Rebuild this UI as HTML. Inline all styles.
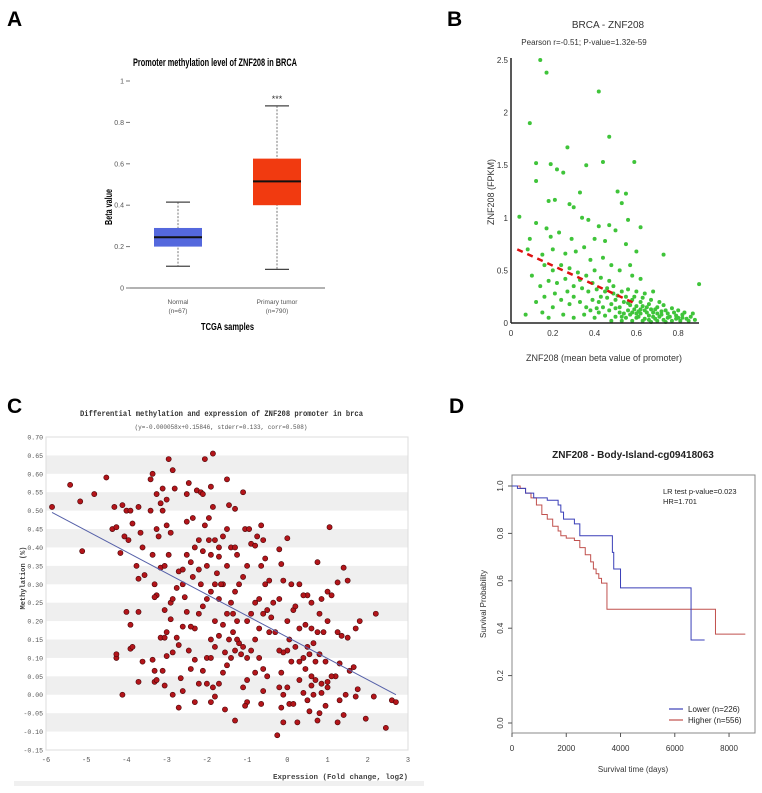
<!DOCTYPE html>
<html><head><meta charset="utf-8"><style>
html,body{margin:0;padding:0;background:#fff;}
svg{display:block;}
text{font-family:"Liberation Sans",sans-serif;}
.mono{font-family:"Liberation Mono",monospace;}
.narrow{font-family:"Liberation Sans Narrow","Liberation Sans",sans-serif;}
</style></head><body>
<svg id="fig" width="762" height="793" viewBox="0 0 762 793" xmlns="http://www.w3.org/2000/svg">
<text x="7" y="26" font-size="21" font-weight="bold">A</text>
<text x="447" y="26" font-size="21" font-weight="bold">B</text>
<text x="7" y="413" font-size="21" font-weight="bold">C</text>
<text x="449" y="413" font-size="21" font-weight="bold">D</text>
<g id="pa"></g>
<g id="pb"></g>
<g id="pc"></g>
<g id="pd"></g>
</svg>
<script>
// Panel A data
const boxCategories = ["Normal","Primary tumor"];
const boxCounts = ["(n=67)","(n=790)"];
const boxMin = [0.105, 0.09];
const boxQ1 = [0.20, 0.40];
const boxMedian = [0.245, 0.515];
const boxQ3 = [0.29, 0.625];
const boxMax = [0.415, 0.88];
const boxTicks = [0,0.2,0.4,0.6,0.8,1];
const boxTickLabels = ["0","0.2","0.4","0.6","0.8","1"];

// Panel B data
const bPoints = [[0.14,2.5],[0.17,2.38],[0.42,2.2],[0.09,1.9],[0.47,1.77],[0.27,1.67],[0.12,1.52],[0.19,1.51],[0.36,1.5],[0.44,1.53],[0.59,1.53],[0.22,1.46],[0.25,1.43],[0.12,1.35],[0.33,1.24],[0.51,1.25],[0.55,1.23],[0.53,1.14],[0.18,1.16],[0.21,1.17],[0.28,1.13],[0.3,1.1],[0.04,1.01],[0.34,1.0],[0.37,0.98],[0.56,0.98],[0.12,0.95],[0.47,0.93],[0.42,0.92],[0.62,0.91],[0.17,0.9],[0.5,0.88],[0.23,0.86],[0.29,0.8],[0.09,0.8],[0.19,0.82],[0.4,0.8],[0.45,0.78],[0.55,0.75],[0.6,0.68],[0.73,0.65],[0.08,0.7],[0.15,0.65],[0.2,0.7],[0.26,0.66],[0.31,0.68],[0.35,0.72],[0.38,0.6],[0.44,0.62],[0.48,0.55],[0.52,0.5],[0.57,0.55],[0.58,0.45],[0.62,0.42],[0.16,0.55],[0.2,0.5],[0.24,0.55],[0.28,0.52],[0.32,0.48],[0.36,0.45],[0.4,0.5],[0.43,0.43],[0.47,0.4],[0.1,0.45],[0.14,0.35],[0.18,0.4],[0.22,0.38],[0.26,0.42],[0.3,0.35],[0.34,0.33],[0.37,0.3],[0.41,0.32],[0.45,0.3],[0.49,0.28],[0.53,0.3],[0.56,0.32],[0.6,0.3],[0.64,0.28],[0.68,0.3],[0.12,0.2],[0.16,0.25],[0.2,0.15],[0.24,0.22],[0.28,0.18],[0.3,0.25],[0.33,0.2],[0.36,0.15],[0.39,0.22],[0.42,0.2],[0.44,0.15],[0.46,0.24],[0.48,0.18],[0.5,0.22],[0.52,0.15],[0.54,0.2],[0.56,0.12],[0.58,0.22],[0.6,0.16],[0.62,0.2],[0.64,0.12],[0.66,0.18],[0.68,0.1],[0.7,0.15],[0.72,0.08],[0.74,0.12],[0.76,0.06],[0.78,0.1],[0.8,0.05],[0.82,0.08],[0.84,0.04],[0.86,0.06],[0.88,0.03],[0.9,0.37],[0.07,0.08],[0.18,0.05],[0.25,0.08],[0.3,0.05],[0.35,0.08],[0.4,0.05],[0.42,0.1],[0.45,0.07],[0.47,0.12],[0.5,0.06],[0.52,0.1],[0.55,0.05],[0.57,0.08],[0.6,0.05],[0.62,0.09],[0.64,0.04],[0.66,0.07],[0.69,0.04],[0.71,0.06],[0.73,0.03],[0.75,0.05],[0.77,0.02],[0.79,0.04],[0.81,0.02],[0.85,0.02],[0.48,0.02],[0.53,0.02],[0.58,0.02],[0.63,0.02],[0.67,0.01],[0.7,0.02],[0.74,0.01],[0.43,0.25],[0.51,0.26],[0.55,0.25],[0.59,0.25],[0.63,0.24],[0.67,0.22],[0.71,0.2],[0.65,0.15],[0.69,0.13],[0.73,0.17],[0.61,0.11],[0.57,0.17],[0.49,0.35],[0.46,0.33],[0.39,0.38],[0.33,0.41],[0.27,0.3],[0.21,0.28],[0.15,0.1],[0.38,0.12],[0.41,0.14],[0.5,0.14],[0.54,0.09],[0.59,0.13],[0.77,0.14],[0.8,0.12],[0.83,0.1],[0.87,0.09],[0.61,0.06],[0.65,0.1],[0.68,0.06],[0.72,0.11],[0.75,0.09],[0.79,0.07],[0.82,0.05],[0.56,0.19],[0.63,0.16],[0.67,0.13],[0.7,0.09],[0.66,0.03],[0.6,0.09],[0.53,0.06],[0.58,0.1],[0.62,0.13]];
const bFit = [[0.03,0.70],[0.60,0.18]];
const bXTicks = [0,0.2,0.4,0.6,0.8];
const bXTickLabels = ["0","0.2","0.4","0.6","0.8"];
const bYTicks = [0,0.5,1,1.5,2,2.5];
const bYTickLabels = ["0","0.5","1","1.5","2","2.5"];

// Panel C data
const cPoints = [[-5.85,0.51],[-5.4,0.57],[-5.15,0.525],[-5.1,0.39],[-4.8,0.545],[-4.5,0.59],[-4.35,0.45],[-4.3,0.51],[-4.25,0.455],[-4.1,0.515],[-4.15,0.385],[-4,0.5],[-3.95,0.42],[-3.9,0.5],[-3.85,0.465],[-4.05,0.43],[-3.7,0.51],[-3.6,0.4],[-3.65,0.44],[-3.55,0.325],[-3.75,0.35],[-3.7,0.315],[-4.0,0.225],[-3.9,0.19],[-3.9,0.125],[-3.85,0.13],[-4.25,0.1],[-4.25,0.11],[-3.7,0.225],[-3.6,0.09],[-3.7,0.035],[-4.1,0.0],[-3.4,0.5],[-3.35,0.6],[-3.4,0.585],[-3.25,0.545],[-3.1,0.56],[-3.0,0.53],[-2.95,0.64],[-2.85,0.61],[-2.8,0.56],[-3.1,0.5],[-3.15,0.52],[-3.25,0.45],[-3.2,0.43],[-3.0,0.46],[-2.9,0.44],[-3.35,0.38],[-3.15,0.345],[-3.05,0.35],[-2.95,0.38],[-3.3,0.3],[-3.25,0.27],[-3.3,0.265],[-3.05,0.23],[-2.9,0.25],[-2.85,0.26],[-3.15,0.155],[-3.05,0.155],[-3.0,0.17],[-2.9,0.205],[-3.0,0.105],[-3.35,0.095],[-3.3,0.065],[-3.1,0.065],[-3.3,0.035],[-3.25,0.04],[-3.05,0.025],[-2.85,0.0],[-2.7,-0.035],[-2.65,0.045],[-2.6,0.01],[-2.7,0.135],[-2.75,0.155],[-2.85,0.115],[-2.6,0.185],[-2.75,0.29],[-2.7,0.335],[-2.6,0.34],[-2.5,0.38],[-2.5,0.47],[-2.45,0.575],[-2.5,0.545],[-2.35,0.48],[-2.25,0.555],[-2.15,0.55],[-2.1,0.545],[-2.05,0.64],[-1.85,0.655],[-1.9,0.565],[-1.85,0.51],[-1.95,0.48],[-2.05,0.46],[-2.2,0.42],[-2.3,0.4],[-2.4,0.36],[-2.35,0.32],[-2.2,0.34],[-2.15,0.3],[-2.0,0.35],[-1.9,0.38],[-1.8,0.42],[-1.7,0.4],[-1.75,0.33],[-1.8,0.3],[-1.9,0.28],[-2.0,0.26],[-2.1,0.24],[-2.2,0.22],[-2.3,0.18],[-2.4,0.185],[-2.5,0.225],[-2.45,0.12],[-2.4,0.07],[-2.3,0.095],[-2.3,-0.02],[-2.2,0.03],[-2.1,0.065],[-2.0,0.1],[-1.9,0.15],[-1.8,0.2],[-1.7,0.26],[-1.6,0.3],[-1.5,0.35],[-1.4,0.4],[-1.5,0.45],[-1.5,0.585],[-1.45,0.515],[-1.3,0.505],[-1.3,0.4],[-1.25,0.38],[-1.1,0.55],[-1.05,0.45],[-0.95,0.45],[-0.9,0.41],[-0.8,0.405],[-0.65,0.46],[-0.6,0.42],[-0.55,0.37],[-0.65,0.35],[-0.75,0.43],[-1.0,0.35],[-1.1,0.32],[-1.2,0.3],[-1.3,0.28],[-1.4,0.25],[-1.5,0.22],[-1.6,0.19],[-1.7,0.16],[-1.8,0.13],[-1.9,0.1],[-1.85,0.02],[-1.8,-0.005],[-1.9,-0.02],[-1.7,0.03],[-1.6,0.06],[-1.5,0.08],[-1.4,0.1],[-1.3,0.12],[-1.2,0.14],[-1.1,0.13],[-1.0,0.1],[-1.15,0.11],[-1.25,0.15],[-1.35,0.17],[-1.0,0.2],[-0.9,0.22],[-0.8,0.25],[-0.7,0.26],[-0.6,0.22],[-0.5,0.23],[-0.4,0.21],[-0.3,0.17],[-0.45,0.17],[-0.7,0.18],[-0.8,0.15],[-0.9,0.12],[-0.7,0.1],[-0.6,0.07],[-0.5,0.05],[-0.8,0.06],[-1.0,0.04],[-1.1,0.02],[-1.0,-0.02],[-1.05,-0.03],[-1.3,-0.07],[-1.55,-0.04],[-0.6,0.01],[-0.65,-0.025],[-0.25,-0.11],[-0.1,-0.075],[-0.15,-0.035],[-0.1,0.0],[-0.2,0.02],[0.0,0.02],[0.05,-0.025],[0.15,-0.025],[0.25,-0.075],[0.3,0.04],[0.4,0.005],[0.5,-0.015],[0.55,-0.045],[0.6,0.025],[0.65,0.0],[0.75,-0.07],[0.8,-0.05],[0.85,0.005],[0.95,-0.03],[1.0,0.02],[1.25,-0.075],[1.3,-0.015],[1.4,-0.055],[1.45,0.0],[1.7,-0.005],[1.95,-0.065],[2.15,-0.005],[2.45,-0.09],[2.6,-0.015],[2.7,-0.02],[1.75,0.015],[1.55,0.065],[1.2,0.05],[1.1,0.05],[1.0,0.035],[0.85,0.03],[0.7,0.04],[0.6,0.05],[0.45,0.07],[0.3,0.09],[0.1,0.09],[0.0,0.12],[-0.1,0.115],[-0.15,0.06],[-0.2,0.12],[0.05,0.15],[0.2,0.13],[0.4,0.1],[0.5,0.13],[0.55,0.11],[0.7,0.09],[0.8,0.11],[0.95,0.09],[1.3,0.085],[1.65,0.075],[0.0,0.2],[0.15,0.23],[0.3,0.18],[0.45,0.19],[0.6,0.18],[0.75,0.17],[0.9,0.17],[1.0,0.2],[1.25,0.17],[1.35,0.16],[1.5,0.155],[1.7,0.18],[1.8,0.2],[2.2,0.22],[1.5,0.31],[1.4,0.345],[1.25,0.305],[1.1,0.27],[1.0,0.28],[0.85,0.26],[0.75,0.36],[0.6,0.25],[0.5,0.27],[0.4,0.27],[0.3,0.3],[0.2,0.24],[0.1,0.3],[-0.1,0.31],[-0.2,0.26],[-0.15,0.355],[-0.2,0.395],[0.0,0.425],[1.05,0.455],[0.8,0.22],[0.65,0.14],[-0.35,0.25],[-0.45,0.31],[-0.55,0.3],[-1.35,0.22],[-1.25,0.2],[-2.6,0.3],[-2.55,0.265],[-1.6,0.43],[-1.55,0.115],[-2.0,0.03],[-1.7,0.375],[-2.1,0.39],[-1.95,0.42],[-1.65,0.3],[-1.45,0.15]];
const cFit = [[-5.85,0.495],[2.7,0.0]];
const cXTicks = [-6,-5,-4,-3,-2,-1,0,1,2,3];
const cYTicks = [0.70,0.65,0.60,0.55,0.50,0.45,0.40,0.35,0.30,0.25,0.20,0.15,0.10,0.05,0.00,-0.05,-0.10,-0.15];

// Panel D data
const lowerTimes = [0,200,500,800,1300,1700,1800,1900,2300,2500,3700,3750,4000,6600,7100];
const lowerSurv = [1,0.99,0.97,0.95,0.94,0.92,0.89,0.86,0.84,0.79,0.72,0.65,0.57,0.35,0.35];
const higherTimes = [0,300,500,700,900,1100,1300,1500,1700,1800,2000,2300,2500,2700,2900,3000,3100,3200,3300,3500,7500,8600];
const higherSurv = [1,0.99,0.97,0.95,0.92,0.88,0.86,0.83,0.81,0.79,0.78,0.77,0.74,0.71,0.68,0.65,0.63,0.61,0.59,0.48,0.375,0.375];
const dXTicks = [0,2000,4000,6000,8000];
const dYTicks = [0,0.2,0.4,0.6,0.8,1.0];
const dYTickLabels = ["0.0","0.2","0.4","0.6","0.8","1.0"];

const NS="http://www.w3.org/2000/svg";
function mk(parent,tag,attrs,text){const e=document.createElementNS(NS,tag);for(const k in attrs)e.setAttribute(k,attrs[k]);if(text!==undefined)e.textContent=text;parent.appendChild(e);return e;}

// ---------- Panel A ----------
(function(){
const g=document.getElementById('pa');
const ay=v=>288-v*207;
const ax=i=>[178,277][i];
const t=mk(g,'text',{x:133,y:66,'font-size':11,'font-weight':'bold',textLength:164,lengthAdjust:'spacingAndGlyphs',class:'narrow'},'Promoter methylation level of ZNF208 in BRCA');

const yl=mk(g,'line',{x1:127,y1:ay(0),x2:325,y2:ay(0),stroke:'#666','stroke-width':1});

boxTicks.forEach((v,i)=>{
 const tk=mk(g,'line',{x1:126,y1:ay(v),x2:130,y2:ay(v),stroke:'#777'});
 
 const tl=mk(g,'text',{x:124,y:ay(v)+2.5,'font-size':7,'text-anchor':'end',fill:'#555',class:'narrow'},boxTickLabels[i]);
 
});
const ytl=mk(g,'text',{x:-18,y:0,'font-size':10,'font-weight':'bold',textLength:36,lengthAdjust:'spacingAndGlyphs',transform:'translate(112,207) rotate(-90)'},'Beta value');

const colors=['#5468dd','#f13a10'];
boxCategories.forEach((c,i)=>{
 const cx=ax(i),w=48;
 const wh=mk(g,'line',{x1:cx,y1:ay(boxMax[i]),x2:cx,y2:ay(boxMin[i]),stroke:'#777','stroke-dasharray':'2,1.5'});
 
 [boxMin[i],boxMax[i]].forEach(v=>{const cap=mk(g,'line',{x1:cx-12,y1:ay(v),x2:cx+12,y2:ay(v),stroke:'#444','stroke-width':1.2});
  });
 const r=mk(g,'rect',{x:cx-w/2,y:ay(boxQ3[i]),width:w,height:ay(boxQ1[i])-ay(boxQ3[i]),fill:colors[i]});
 
 const md=mk(g,'line',{x1:cx-w/2,y1:ay(boxMedian[i]),x2:cx+w/2,y2:ay(boxMedian[i]),stroke:'#111','stroke-width':2});
 
 const l1=mk(g,'text',{x:cx,y:304,'font-size':6.5,'text-anchor':'middle',fill:'#555',class:'narrow'},c);
 
 const l2=mk(g,'text',{x:cx,y:313,'font-size':6.5,'text-anchor':'middle',fill:'#555',class:'narrow'},boxCounts[i]);
 
});
const st=mk(g,'text',{x:ax(1),y:102,'font-size':9,'text-anchor':'middle',fill:'#333'},'***');

const xt=mk(g,'text',{x:201,y:330,'font-size':10,'font-weight':'bold',textLength:53,lengthAdjust:'spacingAndGlyphs',class:'narrow'},'TCGA samples');

})();

// ---------- Panel B ----------
(function(){
const g=document.getElementById('pb');
const bx=v=>511+v*209;
const by=v=>323-v*105.2;
const t1=mk(g,'text',{x:608,y:28,'font-size':10,'text-anchor':'middle',fill:'#333'},'BRCA - ZNF208');

const t2=mk(g,'text',{x:584,y:45,'font-size':8,'text-anchor':'middle',fill:'#333'},'Pearson r=-0.51; P-value=1.32e-59');

bPoints.forEach(p=>{const c=mk(g,'circle',{cx:bx(p[0]),cy:by(p[1]),r:2,fill:'#3fc43a'});
 });
const fl=mk(g,'line',{x1:bx(bFit[0][0]),y1:by(bFit[0][1]),x2:bx(bFit[1][0]),y2:by(bFit[1][1]),stroke:'#d11',
 'stroke-width':2.5,'stroke-dasharray':'6,5'});

const xa=mk(g,'line',{x1:511,y1:323,x2:699,y2:323,stroke:'#222','stroke-width':1.5});

const ya=mk(g,'line',{x1:511,y1:58,x2:511,y2:323,stroke:'#222','stroke-width':1.5});

bXTicks.forEach((v,i)=>{const tl=mk(g,'text',{x:bx(v),y:336,'font-size':8,'text-anchor':'middle',fill:'#333'},bXTickLabels[i]);
 });
bYTicks.forEach((v,i)=>{const tl=mk(g,'text',{x:508,y:by(v)+3,'font-size':8,'text-anchor':'end',fill:'#333'},bYTickLabels[i]);
 });
const xl=mk(g,'text',{x:604,y:361,'font-size':9,'text-anchor':'middle',fill:'#333'},'ZNF208 (mean beta value of promoter)');

const yl=mk(g,'text',{x:0,y:0,'font-size':9,'text-anchor':'middle',fill:'#333',transform:'translate(494,192) rotate(-90)'},'ZNF208 (FPKM)');

})();

// ---------- Panel C ----------
(function(){
const g=document.getElementById('pc');
const cx=v=>46+(v+6)*40.22;
const cy=v=>437+(0.70-v)*368.2;
for(let i=0;i<cYTicks.length-1;i++){
 const top=cYTicks[i],bot=cYTicks[i+1];
 if(i%2===1){const b=mk(g,'rect',{x:46,y:cy(top),width:362,height:cy(bot)-cy(top),fill:'#efefef'});
  }
}
const fr=mk(g,'rect',{x:46,y:437,width:362,height:313,fill:'none',stroke:'#ddd'});

const t1=mk(g,'text',{x:80,y:416,'font-size':8,'font-weight':'bold',textLength:283,lengthAdjust:'spacingAndGlyphs',class:'mono',fill:'#333'},'Differential methylation and expression of ZNF208 promoter  in brca');

const t2=mk(g,'text',{x:221,y:429,'font-size':6,'text-anchor':'middle',class:'mono',fill:'#555'},'(y=-0.000058x+0.15846, stderr=0.133, corr=0.508)');

cPoints.forEach(p=>{const c=mk(g,'circle',{cx:cx(p[0]),cy:cy(p[1]),r:2.6,fill:'#b3151a',stroke:'#4a0508','stroke-width':0.6});
 });
const fl=mk(g,'line',{x1:cx(cFit[0][0]),y1:cy(cFit[0][1]),x2:cx(cFit[1][0]),y2:cy(cFit[1][1]),stroke:'#5560a8','stroke-width':1});

cXTicks.forEach(v=>{const tl=mk(g,'text',{x:cx(v),y:762,'font-size':7,'text-anchor':'middle',class:'mono',fill:'#555'},String(v));
 });
cYTicks.forEach(v=>{const tl=mk(g,'text',{x:43,y:cy(v)+2.5,'font-size':6.5,'text-anchor':'end',class:'mono',fill:'#555'},v.toFixed(2));
 });
const xl=mk(g,'text',{x:408,y:779,'font-size':7.5,'font-weight':'bold','text-anchor':'end',class:'mono',fill:'#444'},'Expression (Fold change, log2)');

const yl=mk(g,'text',{x:0,y:0,'font-size':7,'font-weight':'bold','text-anchor':'middle',class:'mono',fill:'#444',transform:'translate(25,578) rotate(-90)'},'Methylation (%)');

const bb=mk(g,'rect',{x:14,y:781,width:410,height:5,fill:'#f0f0f0'});

})();

// ---------- Panel D ----------
(function(){
const g=document.getElementById('pd');
const dx=v=>512+v*0.02713;
const dy=v=>723-v*237;
const t=mk(g,'text',{x:633,y:458,'font-size':10,'font-weight':'bold','text-anchor':'middle',fill:'#222'},'ZNF208 - Body-Island-cg09418063');

const fr=mk(g,'rect',{x:512,y:475,width:243,height:258,fill:'none',stroke:'#888'});

function step(ts,ss){let d='M'+dx(ts[0])+','+dy(ss[0]);for(let i=1;i<ts.length;i++){d+=' H'+dx(ts[i])+' V'+dy(ss[i]);}return d;}
const pl=mk(g,'path',{d:step(higherTimes,higherSurv),fill:'none',stroke:'#c0504d','stroke-width':1});

const pb=mk(g,'path',{d:step(lowerTimes,lowerSurv),fill:'none',stroke:'#3a3fb8','stroke-width':1});

dXTicks.forEach(v=>{
 const tk=mk(g,'line',{x1:dx(v),y1:733,x2:dx(v),y2:737,stroke:'#555'});
 
 const tl=mk(g,'text',{x:dx(v),y:751,'font-size':8,'text-anchor':'middle',fill:'#333'},String(v));
 
});
dYTicks.forEach((v,i)=>{
 const tk=mk(g,'line',{x1:508,y1:dy(v),x2:512,y2:dy(v),stroke:'#555'});
 
 const tl=mk(g,'text',{x:0,y:0,'font-size':8,'text-anchor':'middle',fill:'#333',transform:'translate(503,'+dy(v)+') rotate(-90)'},dYTickLabels[i]);
 
});
const xl=mk(g,'text',{x:633,y:772,'font-size':8,'text-anchor':'middle',fill:'#333'},'Survival time (days)');

const yl=mk(g,'text',{x:0,y:0,'font-size':8,'text-anchor':'middle',fill:'#333',transform:'translate(486,604) rotate(-90)'},'Survival Probability');

const a1=mk(g,'text',{x:663,y:494,'font-size':7.5,fill:'#222'},'LR test p-value=0.023');

const a2=mk(g,'text',{x:663,y:504,'font-size':7.5,fill:'#222'},'HR=1.701');

const lg=mk(g,'g',{});

const e1=mk(lg,'line',{x1:669,y1:709,x2:683,y2:709,stroke:'#3a3fb8','stroke-width':1.2});

const e1t=mk(lg,'text',{x:688,y:712,'font-size':8,fill:'#222'},'Lower (n=226)');

const e2=mk(lg,'line',{x1:669,y1:720,x2:683,y2:720,stroke:'#c0504d','stroke-width':1.2});

const e2t=mk(lg,'text',{x:688,y:723,'font-size':8,fill:'#222'},'Higher (n=556)');

})();
</script>
</body></html>
